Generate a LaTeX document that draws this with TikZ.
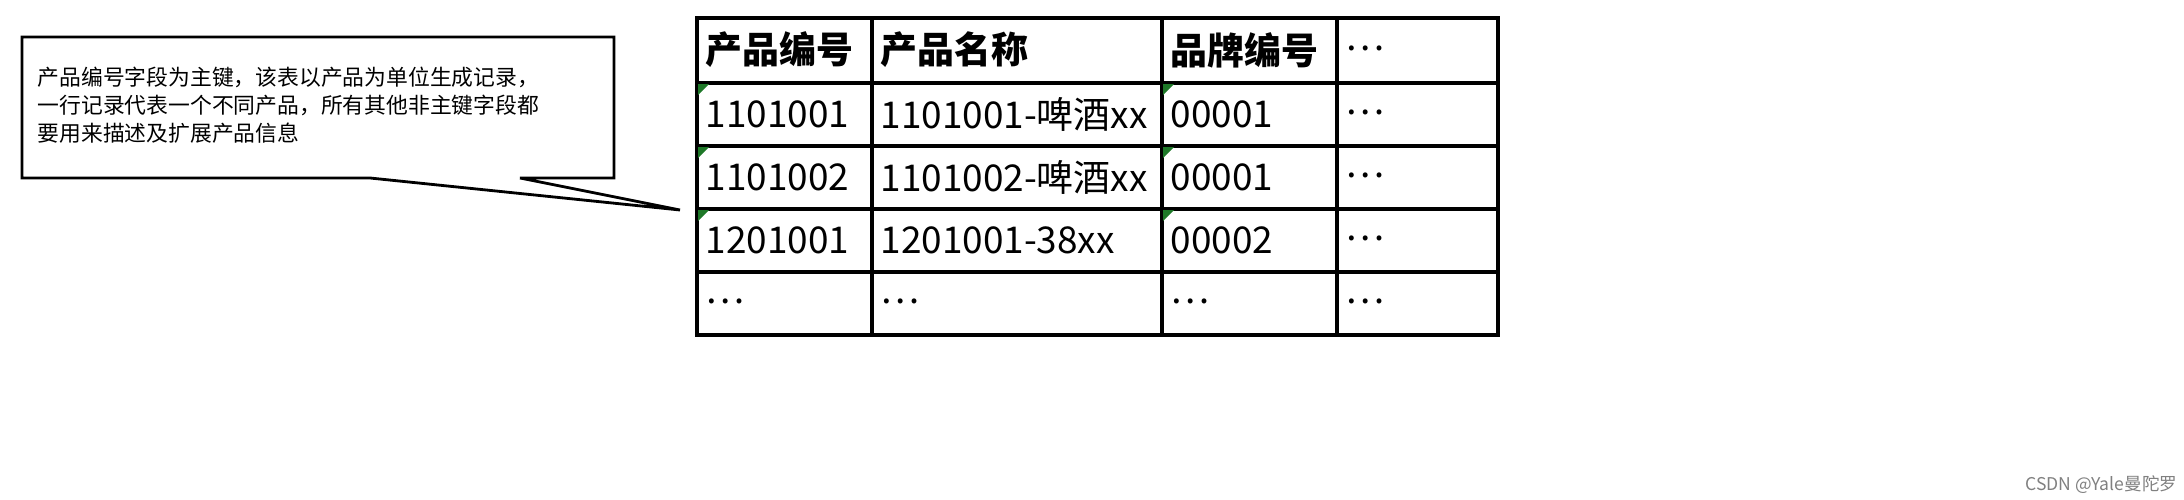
\documentclass[tikz,border=0pt]{standalone}
\usepackage{fontspec}
\setmainfont{Noto Sans CJK SC}
\definecolor{markgreen}{RGB}{30,120,40}
\begin{document}
\begin{tikzpicture}[x=0.01cm,y=-0.01cm,
    cell/.style={anchor=west,inner sep=0pt,font=\fontsize{10.5pt}{12pt}\selectfont},
    head/.style={cell,font=\fontsize{10.5pt}{12pt}\selectfont\bfseries},
    note/.style={anchor=north west,align=left,inner sep=0pt,font=\fontsize{6.2pt}{8pt}\selectfont}]
    \useasboundingbox (0,0) rectangle (2184,500);

    % callout
    \draw[line width=0.8pt] (22,37) -- (614,37) -- (614,178) -- (520,178) -- (680,210)
        -- (370,178) -- (22,178) -- cycle;
    \node[note] (notetext) at (37,66) {产品编号字段为主键，该表以产品为单位生成记录，\\一行记录代表一个不同产品，所有其他非主键字段都\\要用来描述及扩展产品信息};

    % table grid
    \draw[line width=1.2pt] (697,18) rectangle (1498,335);
    \foreach \y in {83,146,209,272} \draw[line width=1.2pt] (697,\y) -- (1498,\y);
    \foreach \x in {872,1162,1337} \draw[line width=1.2pt] (\x,18) -- (\x,335);

    % green marks
    \foreach \x in {697,1162}
      \foreach \y in {83,146,209}
        \fill[markgreen] (\x+1,\y+1) -- (\x+12,\y+1) -- (\x+1,\y+12) -- cycle;

    % header
    \node[head] (h1) at (705,50) {产品编号};
    \node[head] (h2) at (880,50) {产品名称};
    \node[head] (h3) at (1170,50) {品牌编号};
    \node[cell] (h4) at (1345,48) {\dots};
    % rows
    \node[cell] (r1a) at (705,114) {1101001};
    \node[cell] (r1b) at (880,114) {1101001-啤酒xx};
    \node[cell] (r1c) at (1170,114) {00001};
    \node[cell] (r1d) at (1345,112) {\dots};
    \node[cell] (r2a) at (705,177) {1101002};
    \node[cell] (r2b) at (880,177) {1101002-啤酒xx};
    \node[cell] (r2c) at (1170,177) {00001};
    \node[cell] (r2d) at (1345,175) {\dots};
    \node[cell] (r3a) at (705,240) {1201001};
    \node[cell] (r3b) at (880,240) {1201001-38xx};
    \node[cell] (r3c) at (1170,240) {00002};
    \node[cell] (r3d) at (1345,238) {\dots};
    \node[cell] (r4a) at (705,301) {\dots};
    \node[cell] (r4b) at (880,301) {\dots};
    \node[cell] (r4c) at (1170,301) {\dots};
    \node[cell] (r4d) at (1345,301) {\dots};

    \node[anchor=east,inner sep=0pt,text=gray,font=\fontsize{5pt}{6pt}\selectfont] (mark) at (2178,485) {CSDN @Yale曼陀罗};
\end{tikzpicture}
\end{document}
